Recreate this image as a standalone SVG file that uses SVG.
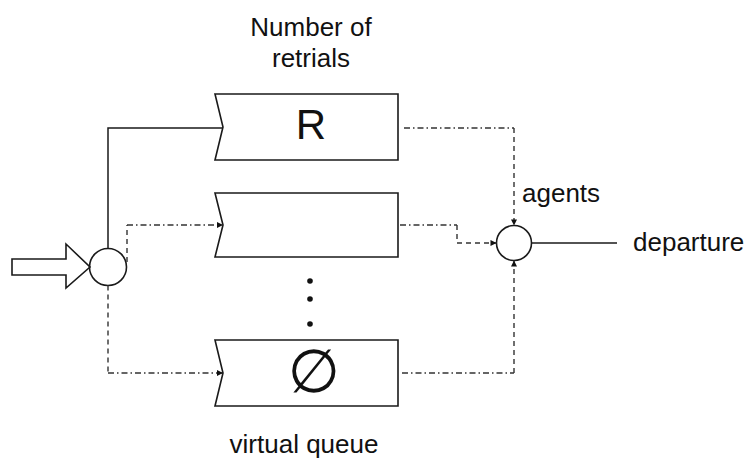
<svg xmlns="http://www.w3.org/2000/svg" width="748" height="460" viewBox="0 0 748 460">
<style>
.box{fill:none;stroke:#1a1a1a;stroke-width:1.6}
.node{fill:none;stroke:#1a1a1a;stroke-width:1.6}
.solid{fill:none;stroke:#1a1a1a;stroke-width:1.5}
.dd{fill:none;stroke:#333;stroke-width:1.4;stroke-dasharray:6 3 1.5 3}
.dash{fill:none;stroke:#333;stroke-width:1.4;stroke-dasharray:5 4}
.lbl{font-family:"Liberation Sans",Arial,sans-serif;font-size:26px;fill:#111}
</style>
<defs>
<marker id="ah" viewBox="0 0 10 10" refX="10" refY="5" markerWidth="7" markerHeight="6" markerUnits="userSpaceOnUse" orient="auto">
<path d="M0,0 L10,5 L0,10 z" fill="#111"/>
</marker>
</defs>
<rect width="748" height="460" fill="#fff"/>
<g id="label-retrials">
<text class="lbl" x="311" y="36" text-anchor="middle">Number of</text>
<text class="lbl" x="311" y="67" text-anchor="middle">retrials</text>
</g>
<g id="queue-R">
<path class="box" d="M215,94 L398,94 L398,160 L215,160 L223,127 Z"/>
<text x="311" y="139" text-anchor="middle" font-family="'Liberation Sans',Arial,sans-serif" font-size="42" fill="#111">R</text>
</g>
<g id="queue-2">
<path class="box" d="M215,193 L398,193 L398,257 L215,257 L223,225 Z"/>
</g>
<g id="dots">
<circle cx="310" cy="281" r="2.8" fill="#111"/>
<circle cx="310" cy="299" r="2.8" fill="#111"/>
<circle cx="310" cy="324" r="2.8" fill="#111"/>
</g>
<g id="queue-empty">
<path class="box" d="M215,340 L398,340 L398,406 L215,406 L223,373 Z"/>
<text x="314" y="392" text-anchor="middle" font-family="'DejaVu Sans',sans-serif" font-size="60" fill="#111">∅</text>
</g>
<g id="label-virtual">
<text class="lbl" x="304" y="453" text-anchor="middle">virtual queue</text>
</g>
<g id="input-arrow">
<path class="node" d="M66,259 L12,259 L12,275 L66,275 L66,288 L90,267 L66,244 Z"/>
</g>
<g id="router">
<circle class="node" cx="108" cy="267" r="18.5"/>
</g>
<g id="server">
<circle class="node" cx="514" cy="243" r="17.5"/>
</g>
<g id="label-agents">
<text class="lbl" x="522" y="202">agents</text>
</g>
<g id="label-departure">
<text class="lbl" x="633" y="251">departure</text>
</g>
<g id="connectors">
<path class="solid" d="M108,248.5 L108,128 L223,128"/>
<path class="dash" d="M127,262 L127,225"/>
<path class="dd" d="M127,225 L223,225" marker-end="url(#ah)"/>
<path class="dash" d="M108,285.5 L108,373"/>
<path class="dd" d="M108,373 L223,373" marker-end="url(#ah)"/>
<path class="dd" d="M404,128 L514,128"/>
<path class="dash" d="M514,128 L514,225.5" marker-end="url(#ah)"/>
<path class="dd" d="M400,225 L457,225"/>
<path class="dash" d="M457,225 L457,243"/>
<path class="dash" d="M457,243 L496.5,243" marker-end="url(#ah)"/>
<path class="dd" d="M402,373 L514,373"/>
<path class="dash" d="M514,373 L514,260.5" marker-end="url(#ah)"/>
<path class="solid" d="M531.5,243 L617,243"/>
</g>
</svg>
